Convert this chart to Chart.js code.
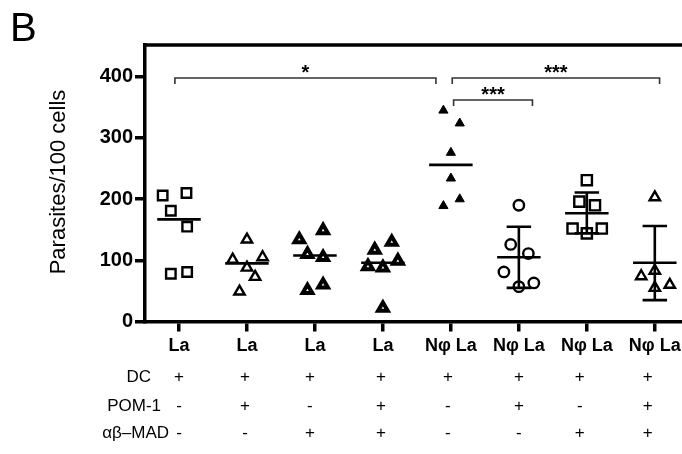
<!DOCTYPE html>
<html>
<head>
<meta charset="utf-8">
<script src="https://cdn.jsdelivr.net/npm/chart.js@4.4.1/dist/chart.umd.min.js"></script>
<style>
  body { margin: 0; background: #fff; }
  canvas { display: block; }
</style>
</head>
<body>
<canvas id="parasiteChart" width="682" height="454"></canvas>
<script>
// group labels along the x axis
var groupLabels = ['La', 'La', 'La', 'La', 'Nφ La', 'Nφ La', 'Nφ La', 'Nφ La'];

// parasites per 100 cells, one array per group
var g1 = [206, 210, 181, 155, 78, 81];
var g2 = [134, 101, 105, 88, 73, 49];
var g3 = [134, 149, 110, 105, 51, 60];
var g4 = [117, 130, 90, 88, 99, 22];
var g5 = [345, 324, 276, 234, 189, 200];
var g6 = [190, 126, 111, 81, 57, 63];
var g7 = [231, 196, 190, 152, 144, 152];
var g8 = [203, 74, 83, 55, 60];

// horizontal scatter of the points inside each column (category units)
var s1 = [-0.24, 0.11, -0.12, 0.12, -0.12, 0.12];
var s2 = [0, -0.21, 0.23, 0, 0.12, -0.11];
var s3 = [-0.23, 0.12, -0.11, 0.12, -0.11, 0.12];
var s4 = [-0.12, 0.13, -0.22, 0, 0.22, 0];
var s5 = [-0.11, 0.13, 0, 0, -0.11, 0.13];
var s6 = [0, -0.12, 0.14, -0.22, 0, 0.22];
var s7 = [0, -0.11, 0.12, -0.21, 0, 0.22];
var s8 = [0, -0.2, 0, 0, 0.22];

// centre line per group, and whiskers where shown
var centre = [167, 95, 108, 96, 256, 105, 177, 96];
var whiskerLow = [null, null, null, null, null, 55, 144, 35];
var whiskerHigh = [null, null, null, null, null, 155, 211, 156];

// significance brackets: from / to column, height, stars
var bracketFrom = [-0.06, 4.02, 4.04];
var bracketTo = [3.78, 7.07, 5.2];
var bracketY = [398, 398, 362];
var bracketText = ['*', '***', '***'];

// treatment table under the axis
var rowNames = ['DC', 'POM-1', 'αβ–MAD'];
var dc = ['+', '+', '+', '+', '+', '+', '+', '+'];
var pom1 = ['-', '+', '-', '+', '-', '+', '-', '+'];
var abMad = ['-', '-', '+', '+', '-', '-', '+', '+'];

var yTicks = [0, 100, 200, 300, 400];

function points(values, spread, col) {
    return values.map(function (v, i) { return { x: col + spread[i], y: v }; });
}

var centreData = [];
centre.forEach(function (v, i) {
    centreData.push({ x: i - 0.32, y: v }, { x: i + 0.32, y: v }, { x: i, y: null });
});

var whiskerData = [];
whiskerLow.forEach(function (lo, i) {
    var hi = whiskerHigh[i];
    if (lo === null) return;
    whiskerData.push({ x: i, y: lo }, { x: i, y: hi }, { x: i, y: null });
    whiskerData.push({ x: i - 0.18, y: hi }, { x: i + 0.18, y: hi }, { x: i, y: null });
    whiskerData.push({ x: i - 0.18, y: lo }, { x: i + 0.18, y: lo }, { x: i, y: null });
});

var none = 'rgba(0,0,0,0)';
function markers(data, style, radius, width, fill) {
    return {
        data: data,
        pointStyle: style,
        pointRadius: radius,
        pointHoverRadius: radius,
        pointBorderWidth: width,
        pointBorderColor: '#000',
        pointBackgroundColor: fill
    };
}

var FONT = '"Liberation Sans", Arial, Helvetica, sans-serif';

var annotations = {
    id: 'annotations',
    afterDraw: function (chart) {
        var ctx = chart.ctx;
        var area = chart.chartArea;
        var xs = chart.scales.x;
        var ys = chart.scales.y;
        ctx.save();

        // top edge of the frame
        ctx.strokeStyle = '#000';
        ctx.lineWidth = 3.5;
        ctx.beginPath();
        ctx.moveTo(area.left - 1.75, area.top);
        ctx.lineTo(chart.width, area.top);
        ctx.stroke();

        // panel letter
        ctx.fillStyle = '#000';
        ctx.font = '40px ' + FONT;
        ctx.textAlign = 'left';
        ctx.textBaseline = 'alphabetic';
        ctx.fillText('B', 10, 41);

        // y axis title
        ctx.save();
        ctx.translate(59, 182);
        ctx.rotate(-Math.PI / 2);
        ctx.font = '22px ' + FONT;
        ctx.textAlign = 'center';
        ctx.textBaseline = 'middle';
        ctx.fillText('Parasites/100 cells', 0, 0);
        ctx.restore();

        // significance brackets
        ctx.strokeStyle = '#333';
        ctx.lineWidth = 1.6;
        ctx.font = 'bold 20px ' + FONT;
        ctx.textAlign = 'center';
        ctx.textBaseline = 'middle';
        bracketFrom.forEach(function (from, i) {
            var x0 = xs.getPixelForValue(from);
            var x1 = xs.getPixelForValue(bracketTo[i]);
            var y = ys.getPixelForValue(bracketY[i]);
            ctx.beginPath();
            ctx.moveTo(x0, y + 6);
            ctx.lineTo(x0, y);
            ctx.lineTo(x1, y);
            ctx.lineTo(x1, y + 6);
            ctx.stroke();
            ctx.fillText(bracketText[i], (x0 + x1) / 2, y - 5);
        });

        // treatment table
        var rows = [dc, pom1, abMad];
        var rowY = [377, 406, 433];
        var nameRight = [151, 161, 169];
        var signShift = [0, -2, -5, -2, -3, 0, -7, -7];
        ctx.font = '17px ' + FONT;
        ctx.textBaseline = 'middle';
        rows.forEach(function (row, r) {
            ctx.textAlign = 'right';
            ctx.fillText(rowNames[r], nameRight[r], rowY[r]);
            ctx.textAlign = 'center';
            row.forEach(function (sign, i) {
                ctx.fillText(sign, xs.getPixelForValue(i) + signShift[i], rowY[r]);
            });
        });
        ctx.restore();
    }
};

window.onload = function () {
    var config = {
        type: 'scatter',
        data: {
            datasets: [
                markers(points(g1, s1, 0), 'rect', 6.7, 2.4, none),
                markers(points(g2, s2, 1), 'triangle', 6, 2.4, none),
                markers(points(g3, s3, 2), 'triangle', 5.6, 4, '#fff'),
                markers(points(g4, s4, 3), 'triangle', 5.6, 4, '#fff'),
                markers(points(g5, s5, 4), 'triangle', 5.3, 1, '#000'),
                markers(points(g6, s6, 5), 'circle', 5.2, 2.4, none),
                markers(points(g7, s7, 6), 'rect', 7.2, 2.4, none),
                markers(points(g8, s8, 7), 'triangle', 6, 2.4, none),
                {
                    data: centreData,
                    showLine: true,
                    spanGaps: false,
                    pointRadius: 0,
                    borderColor: '#000',
                    borderWidth: 2.6
                },
                {
                    data: whiskerData,
                    showLine: true,
                    spanGaps: false,
                    pointRadius: 0,
                    borderColor: '#000',
                    borderWidth: 2.6
                }
            ]
        },
        options: {
            responsive: false,
            animation: false,
            events: [],
            layout: { autoPadding: false, padding: { top: 45, right: 0, left: 0, bottom: 0 } },
            plugins: {
                legend: { display: false },
                tooltip: { enabled: false }
            },
            scales: {
                x: {
                    type: 'linear',
                    position: 'bottom',
                    min: -0.5,
                    max: 7.4,
                    afterBuildTicks: function (scale) {
                        scale.ticks = groupLabels.map(function (_, i) { return { value: i }; });
                    },
                    afterFit: function (scale) {
                        scale.height = 132.5;
                        scale.paddingLeft = 0;
                        scale.paddingRight = 0;
                    },
                    grid: {
                        drawOnChartArea: false,
                        color: '#000',
                        lineWidth: 3.5,
                        tickLength: 10
                    },
                    border: { color: '#000', width: 3.5 },
                    ticks: {
                        autoSkip: false,
                        maxRotation: 0,
                        padding: 4,
                        color: '#000',
                        font: { family: FONT, size: 18, weight: 'bold' },
                        callback: function (value) { return groupLabels[value]; }
                    }
                },
                y: {
                    min: 0,
                    max: 452,
                    afterBuildTicks: function (scale) {
                        scale.ticks = yTicks.map(function (v) { return { value: v }; });
                    },
                    afterFit: function (scale) {
                        scale.width = 145;
                        scale.paddingTop = 0;
                        scale.paddingBottom = 0;
                    },
                    grid: {
                        drawOnChartArea: false,
                        color: '#000',
                        lineWidth: 3.5,
                        tickLength: 10
                    },
                    border: { color: '#000', width: 3.5 },
                    ticks: {
                        padding: 2,
                        color: '#000',
                        font: { family: FONT, size: 20, weight: 'bold' }
                    }
                }
            }
        },
        plugins: [annotations]
    };

    var ctx = document.getElementById('parasiteChart').getContext('2d');
    window.parasiteChart = new Chart(ctx, config);
};
</script>
</body>
</html>
